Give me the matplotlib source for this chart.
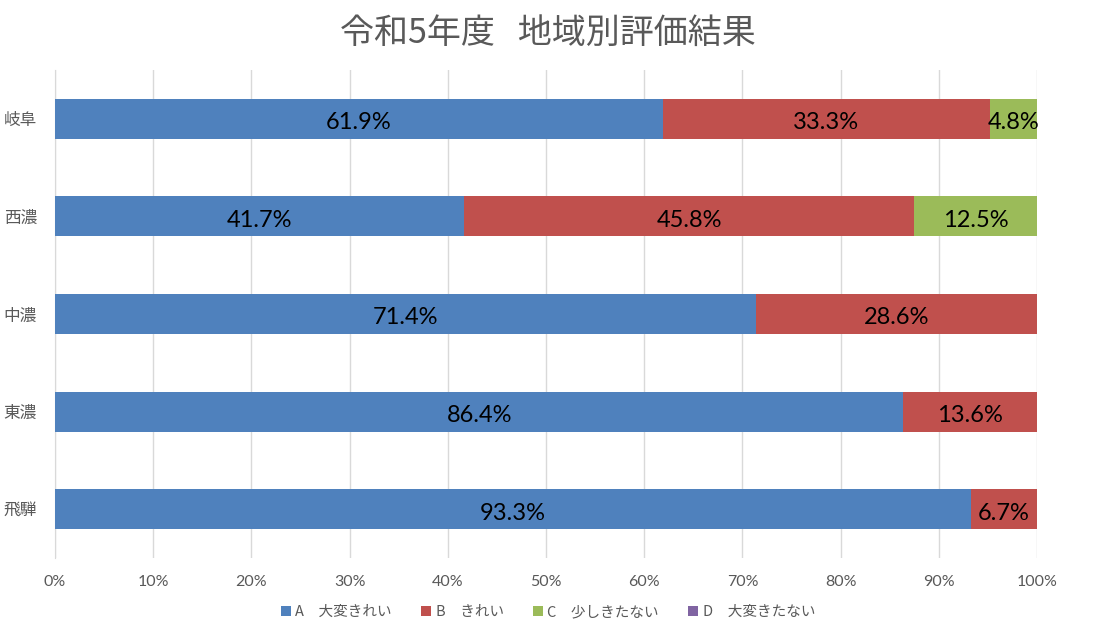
import matplotlib.pyplot as plt
import numpy as np

# data
regions = ["岐阜", "西濃", "中濃", "東濃", "飛騨"]
series_names = ["A　大変きれい", "B　きれい", "C　少しきたない", "D　大変きたない"]
a_vals = [61.9, 41.7, 71.4, 86.4, 93.3]
b_vals = [33.3, 45.8, 28.6, 13.6, 6.7]
c_vals = [4.8, 12.5, 0.0, 0.0, 0.0]
d_vals = [0.0, 0.0, 0.0, 0.0, 0.0]
x_ticks = [0, 10, 20, 30, 40, 50, 60, 70, 80, 90, 100]

colors = ["#4F81BD", "#C0504D", "#9BBB59", "#8064A2"]
grey = "#595959"

plt.rcParams['font.family'] = ['Noto Sans CJK JP', 'DejaVu Sans']

fig = plt.figure(figsize=(10.96, 6.23), dpi=100)
ax = fig.add_axes([55 / 1096, 1 - 558 / 623, (1037 - 55) / 1096, (558 - 70) / 623])

y = np.arange(len(regions))
left = np.zeros(len(regions))
for vals, name, col in zip([a_vals, b_vals, c_vals, d_vals], series_names, colors):
    vals = np.array(vals)
    ax.barh(y, vals, left=left, height=0.41, color=col, label=name, zorder=2)
    for yi, l, v in zip(y, left, vals):
        if v > 0:
            ax.text(l + v / 2, yi + 0.04, f"{v:.1f}%", ha='center', va='center',
                    fontsize=17, color='black', family=['Lato', 'DejaVu Sans'], zorder=3)
    left = left + vals

ax.set_xlim(0, 100)
ax.set_ylim(len(regions) - 0.5, -0.5)
ax.set_yticks(y)
ax.set_yticklabels(regions, fontsize=12, color=grey)
ax.set_xticks(x_ticks)
ax.set_xticklabels([f"{t}%" for t in x_ticks], fontsize=11.5, color=grey,
                   family=['Lato', 'DejaVu Sans'])
ax.tick_params(axis='x', length=0, pad=12)
ax.tick_params(axis='y', length=0, pad=13)
ax.grid(axis='x', color='#D9D9D9', linewidth=1, zorder=0)
for s in ['top', 'right', 'bottom']:
    ax.spines[s].set_visible(False)
ax.spines['left'].set_color('#D9D9D9')
ax.spines['left'].set_zorder(1)

fig.suptitle("令和5年度   地域別評価結果", fontsize=24.5, color=grey, y=0.975)

leg = fig.legend(loc='lower center', bbox_to_anchor=(0.5, -0.015), ncol=4, frameon=False,
                 fontsize=10.5, handlelength=0.7, handleheight=0.7, handletextpad=0.3,
                 columnspacing=2.0)
for t in leg.get_texts():
    t.set_color(grey)

fig.savefig("out.png", dpi=100)
